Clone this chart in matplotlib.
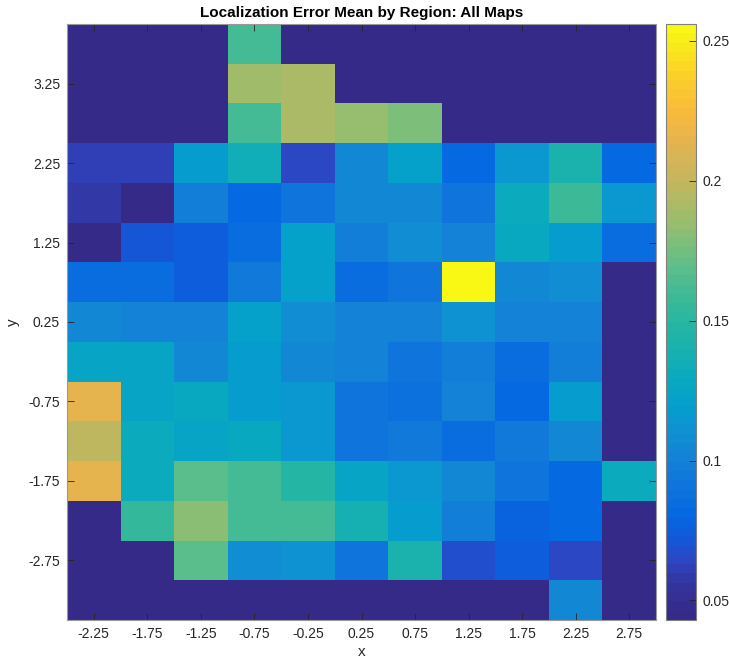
import numpy as np
import matplotlib
matplotlib.use("Agg")
import matplotlib.pyplot as plt
from matplotlib.colors import LinearSegmentedColormap

plt.rcParams['font.family'] = ['Liberation Sans', 'DejaVu Sans']

# ---- data ----
x_centers = [-2.25, -1.75, -1.25, -0.75, -0.25, 0.25, 0.75, 1.25, 1.75, 2.25, 2.75]
y_centers = [3.75, 3.25, 2.75, 2.25, 1.75, 1.25, 0.75, 0.25, -0.25, -0.75,
             -1.25, -1.75, -2.25, -2.75, -3.25]
x_ticks = [-2.25, -1.75, -1.25, -0.75, -0.25, 0.25, 0.75, 1.25, 1.75, 2.25, 2.75]
y_ticks = [-2.75, -1.75, -0.75, 0.25, 1.25, 2.25, 3.25]
cbar_ticks = [0.05, 0.1, 0.15, 0.2, 0.25]
cbar_labels = ['0.05', '0.1', '0.15', '0.2', '0.25']
n = np.nan
err_mean = [
    [n, n, n, 0.160, n, n, n, n, n, n, n],                                       # 3.75
    [n, n, n, 0.188, 0.190, n, n, n, n, n, n],                                   # 3.25
    [n, n, n, 0.162, 0.190, 0.184, 0.178, n, n, n, n],                           # 2.75
    [0.062, 0.062, 0.118, 0.134, 0.066, 0.103, 0.121, 0.080, 0.115, 0.141, 0.082],  # 2.25
    [0.057, 0.044, 0.097, 0.080, 0.092, 0.103, 0.106, 0.091, 0.131, 0.158, 0.113],  # 1.75
    [0.046, 0.072, 0.075, 0.085, 0.120, 0.097, 0.107, 0.100, 0.128, 0.117, 0.085],  # 1.25
    [0.085, 0.085, 0.073, 0.093, 0.120, 0.083, 0.090, 0.256, 0.103, 0.108, n],      # 0.75
    [0.105, 0.100, 0.100, 0.120, 0.107, 0.100, 0.100, 0.110, 0.102, 0.102, n],      # 0.25
    [0.123, 0.123, 0.103, 0.117, 0.105, 0.100, 0.090, 0.097, 0.085, 0.097, n],      # -0.25
    [0.215, 0.123, 0.127, 0.117, 0.113, 0.090, 0.087, 0.100, 0.082, 0.117, n],      # -0.75
    [0.198, 0.132, 0.126, 0.128, 0.113, 0.090, 0.093, 0.083, 0.093, 0.105, n],      # -1.25
    [0.215, 0.132, 0.168, 0.160, 0.148, 0.123, 0.113, 0.105, 0.090, 0.082, 0.130],  # -1.75
    [n, 0.155, 0.180, 0.160, 0.160, 0.138, 0.117, 0.097, 0.078, 0.080, n],          # -2.25
    [n, n, 0.168, 0.107, 0.112, 0.090, 0.140, 0.068, 0.074, 0.063, n],              # -2.75
    [n, n, n, n, n, n, n, n, n, 0.103, n],                                          # -3.25
]
vmin, vmax = 0.043, 0.256

# ---- parula-like colormap (as rendered) ----
anchors = [
    (0.000, (53, 42, 135)), (0.056, (52, 52, 160)), (0.094, (45, 70, 195)),
    (0.136, (15, 90, 220)), (0.174, (5, 105, 225)), (0.220, (15, 115, 220)),
    (0.268, (20, 130, 215)), (0.315, (15, 145, 210)), (0.360, (5, 160, 205)),
    (0.408, (10, 170, 190)), (0.455, (25, 178, 175)), (0.500, (40, 182, 162)),
    (0.550, (65, 187, 150)), (0.596, (95, 190, 138)), (0.667, (150, 190, 110)),
    (0.737, (195, 182, 95)), (0.808, (228, 180, 80)), (0.854, (248, 185, 60)),
    (0.925, (250, 210, 40)), (1.000, (248, 248, 20)),
]
cmap = LinearSegmentedColormap.from_list(
    'parula_r', [(t, tuple(c / 255 for c in col)) for t, col in anchors], N=64)
cmap.set_bad(cmap(0))

Z = np.ma.masked_invalid(np.array(err_mean, dtype=float))
xc = np.array(x_centers)
yc = np.array(y_centers)
dx = 0.5
xedges = np.append(xc - dx / 2, xc[-1] + dx / 2)
yedges = np.append(yc + dx / 2, yc[-1] - dx / 2)

fig = plt.figure(figsize=(7.29, 6.61), dpi=100)
ax = fig.add_axes([67 / 729, 1 - 620 / 661, 589 / 729, 596 / 661])
ax.set_facecolor(cmap(0))
mesh = ax.pcolormesh(xedges, yedges, Z, cmap=cmap, vmin=vmin, vmax=vmax,
                     shading='flat')
ax.set_xlim(xedges[0], xedges[-1])
ax.set_ylim(yedges[-1], yedges[0])
ax.set_xticks(x_ticks)
ax.set_xticklabels([f'{v:g}' for v in x_ticks])
ax.set_yticks(y_ticks)
ax.set_yticklabels([f'{v:g}' for v in y_ticks])
ax.tick_params(direction='in', top=True, right=True, length=5, width=0.6,
               color='0.15', labelcolor='0.15', labelsize=10, pad=5)
for s in ax.spines.values():
    s.set_color('0.6')
    s.set_linewidth(0.8)
ax.set_xlabel('x', fontsize=11, color='0.15', labelpad=3)
ax.set_ylabel('y', fontsize=11, color='0.15', labelpad=6)
ax.set_title('Localization Error Mean by Region: All Maps', fontsize=11,
             fontweight='bold', color='black', pad=5)

cax = fig.add_axes([666 / 729, 1 - 620 / 661, 30 / 729, 596 / 661])
cb = fig.colorbar(mesh, cax=cax)
cb.set_ticks(cbar_ticks)
cb.set_ticklabels(cbar_labels)
cb.ax.tick_params(direction='in', length=5, width=0.6, color='0.15',
                  labelcolor='0.15', labelsize=10, pad=5)
cb.outline.set_edgecolor('0.5')
cb.outline.set_linewidth(0.8)

fig.savefig('out.png', dpi=100)
